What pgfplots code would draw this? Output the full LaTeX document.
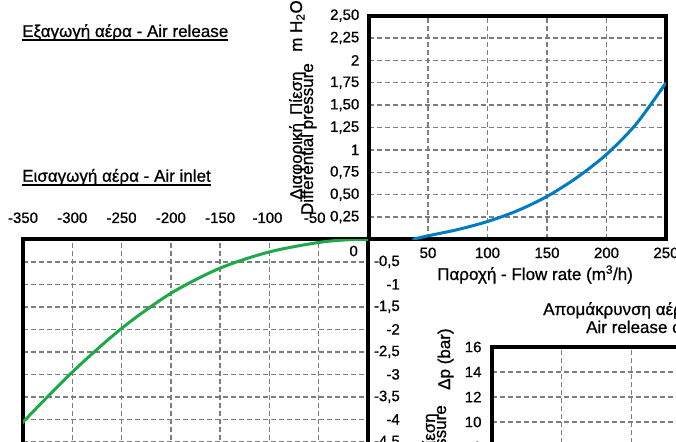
\documentclass[border=0pt]{standalone}
\usepackage{fontspec}
\setmainfont[FakeBold=0.8]{Liberation Sans}
\usepackage{pgfplots}
\pgfplotsset{compat=1.18}
\definecolor{gridgray}{RGB}{125,125,125}
\definecolor{cblue}{RGB}{0,122,196}
\definecolor{cgreen}{RGB}{28,170,72}
\pgfplotsset{
  myax/.style={
    scale only axis,
    axis line style={line width=4pt, line cap=rect},
    grid=major,
    grid style={gridgray, line width=1.4pt, dash pattern=on 5pt off 3pt},
    major tick length=0pt,
    tick label style={font=\fontsize{15}{15}\selectfont, inner sep=0pt},
  }
}
\newcommand{\lf}{\fontsize{17}{17}\selectfont}
\begin{document}
\begin{tikzpicture}
\useasboundingbox (0pt,0pt) rectangle (676pt,-441pt);
\clip (0pt,0pt) rectangle (676pt,-441pt);

% Axis 1: air release
\begin{axis}[myax, width=297.5pt, height=223.8pt,
  at={(368.5pt,-239.4pt)}, anchor=south west,
  xmin=0, xmax=250, ymin=0, ymax=2.5,
  xtick={50,100,150,200,250}, xticklabels={50,100,150,200,250},
  ytick={0.25,0.5,0.75,1,1.25,1.5,1.75,2,2.25,2.5},
  yticklabels={{0,25},{0,50},{0,75},1,{1,25},{1,50},{1,75},2,{2,25},{2,50}},
  xticklabel style={anchor=north, yshift=-8pt},
  yticklabel style={anchor=east, xshift=-9pt},
]
\addplot[cblue, line width=3pt, smooth] coordinates {
 (37,0) (50,0.04) (75,0.11) (100,0.20) (125,0.32) (150,0.48)
 (175,0.69) (200,0.95) (225,1.29) (250,1.75)};
\end{axis}

% Axis 2: air inlet
\begin{axis}[myax, width=345pt, height=225.1pt,
  at={(368pt,-239.3pt)}, anchor=north east,
  xmin=-350, xmax=0, ymin=-5, ymax=0,
  xtick={-350,-300,-250,-200,-150,-100,-50},
  xticklabels={-350,-300,-250,-200,-150,{\hspace*{-4pt}-100},{\hspace*{-8pt}-50}},
  xticklabel pos=right,
  ytick={-4.5,-4,-3.5,-3,-2.5,-2,-1.5,-1,-0.5},
  yticklabels={{-4,5},-4,{-3,5},-3,{-2,5},-2,{-1,5},-1,{-0,5}},
  yticklabel pos=right,
  xticklabel style={anchor=south, yshift=16pt},
  yticklabel style={anchor=east, xshift=32pt},
]
\addplot[cgreen, line width=3pt, smooth] coordinates {
 (-355,-4.2) (-350,-4.06) (-300,-2.95) (-250,-1.98) (-200,-1.20) (-150,-0.64)
 (-100,-0.28) (-50,-0.07) (-20,-0.01) (0,0)};
\end{axis}

% Axis 3: air release (bar)
\begin{axis}[myax, width=280pt, height=200pt,
  at={(491.7pt,-347pt)}, anchor=north west,
  xmin=0, xmax=4, ymin=0, ymax=16,
  xtick={1,2,3,4}, xticklabels={},
  ytick={0,2,4,6,8,10,12,14,16},
  yticklabels={0,2,4,6,8,10,12,14,16},
  yticklabel style={anchor=east, xshift=-10pt},
]
\addplot[draw=none] coordinates {(0,0) (4,16)};
\end{axis}

% Titles
\node[anchor=base west, inner sep=0pt, font=\lf] (t1) at (22pt,-37pt) {Εξαγωγή αέρα - Air release};
\draw[line width=2pt] ([yshift=-3.5pt]t1.base west) -- ([yshift=-3.5pt]t1.base east);
\node[anchor=base west, inner sep=0pt, font=\lf] (t2) at (22pt,-181.7pt) {Εισαγωγή αέρα - Air inlet};
\draw[line width=2pt] ([yshift=-3.5pt]t2.base west) -- ([yshift=-3.5pt]t2.base east);

% Axis 1 labels
\node[rotate=90, anchor=base west, inner sep=0pt, font=\lf] at (302pt,-200pt) {Διαφορική\hspace{8pt}Πίεση};
\node[rotate=90, anchor=base east, inner sep=0pt, font=\lf] at (313pt,-63pt) {Differential pressure};
\node[rotate=90, anchor=base west, inner sep=0pt, font=\lf] at (302pt,-52pt) {m H\textsubscript{2}O};
\node[anchor=base west, inner sep=0pt, font=\lf] at (437pt,-280pt) {Παροχή - Flow rate (m\textsuperscript{3}/h)};

% Axis 2 extra zero label
\node[anchor=east, inner sep=0pt, font=\fontsize{15}{15}\selectfont] at (358pt,-251pt) {0};

% Axis 3 labels
\node[anchor=base west, inner sep=0pt, font=\lf] at (543pt,-315pt) {Απομάκρυνση αέρα υπό πίεση};
\node[anchor=base west, inner sep=0pt, font=\lf] at (586pt,-333pt) {Air release capacity};
\node[rotate=90, anchor=base west, inner sep=0pt, font=\lf] at (450pt,-390pt) {Δp (bar)};
\node[rotate=90, anchor=base east, inner sep=0pt, font=\lf] at (435pt,-413pt) {Διαφορική Πίεση};
\node[rotate=90, anchor=base east, inner sep=0pt, font=\lf] at (446pt,-405pt) {Differential pressure};
\end{tikzpicture}
\end{document}
